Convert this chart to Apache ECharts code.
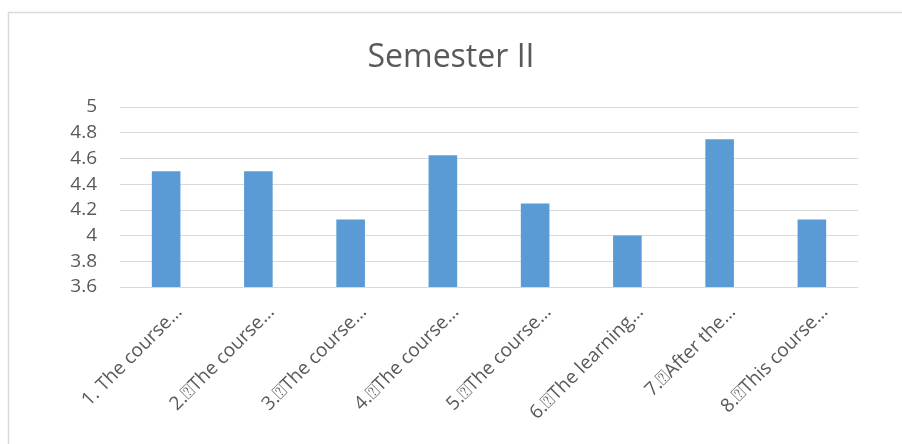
<!DOCTYPE html>
<html>
<head>
<meta charset="utf-8">
<script src="https://cdn.jsdelivr.net/npm/echarts@6/dist/echarts.min.js"></script>
<style>
  html, body { margin: 0; padding: 0; background: #fff; }
  #main { width: 902px; height: 444px; }
</style>
</head>
<body>
<div id="main"></div>
<script>
// 数据
var categories = [
    '1. The course\u2026',
    '2.\u2370The course\u2026',
    '3.\u2370The course\u2026',
    '4.\u2370The course\u2026',
    '5.\u2370The course\u2026',
    '6.\u2370The learning\u2026',
    '7.\u2370After the\u2026',
    '8.\u2370This course\u2026'
];
var values = [4.5, 4.5, 4.125, 4.625, 4.25, 4.0, 4.75, 4.125];
var yTicks = [3.6, 3.8, 4, 4.2, 4.4, 4.6, 4.8, 5];

var myChart = echarts.init(document.getElementById('main'));
var option = {
    animation: false,
    textStyle: { fontFamily: 'Open Sans' },
    title: {
        text: 'Semester II',
        left: 'center',
        top: 37,
        textStyle: { fontFamily: 'Open Sans', fontSize: 32, fontWeight: 'normal', color: '#595959' }
    },
    // 外框
    graphic: [{
        type: 'rect',
        shape: { x: 8.5, y: 12.5, width: 1000, height: 1000 },
        style: { fill: 'none', stroke: '#d9d9d9', lineWidth: 1.5 },
        silent: true
    }],
    grid: { left: 120, right: 44, top: 107, bottom: 157 },
    xAxis: {
        type: 'category',
        data: categories,
        axisLine: { lineStyle: { color: '#d9d9d9' } },
        axisTick: { show: false },
        axisLabel: {
            rotate: 45,
            interval: 0,
            margin: 9,
            verticalAlign: 'top',
            padding: [9, 0, 0, 0],
            fontSize: 19,
            color: '#595959',
            fontFamily: 'Open Sans'
        }
    },
    yAxis: {
        type: 'value',
        min: yTicks[0],
        max: yTicks[yTicks.length - 1],
        interval: 0.2,
        axisLine: { show: false },
        axisTick: { show: false },
        splitLine: { lineStyle: { color: '#d9d9d9', width: 1 } },
        axisLabel: {
            margin: 23,
            fontSize: 19,
            color: '#595959',
            fontFamily: 'Open Sans',
            formatter: function (v) { return String(Math.round(v * 10) / 10); }
        }
    },
    series: [{
        type: 'bar',
        data: values,
        barWidth: '31%',
        itemStyle: { color: '#5b9bd5' }
    }]
};
myChart.setOption(option);
</script>
</body>
</html>
